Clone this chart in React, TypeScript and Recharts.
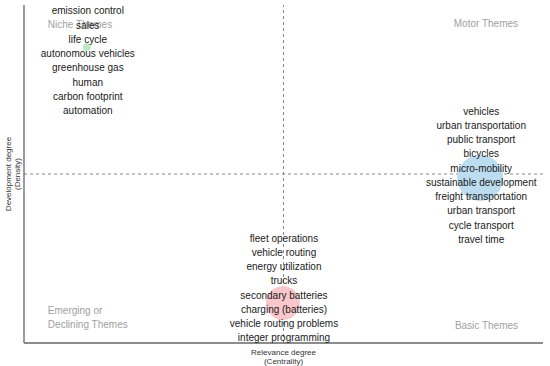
import React from 'react';
import { ScatterChart, Scatter, XAxis, YAxis, ZAxis, ReferenceLine } from 'recharts';

// ---- data ----
const clusterIds = ['niche', 'motor', 'basic'];
const centrality = [0.121, 0.879, 0.499];
const density = [0.876, 0.488, 0.118];
const clusterSize = [4.8, 160, 87];
const nicheKeywords = ['emission control', 'sales', 'life cycle', 'autonomous vehicles', 'greenhouse gas', 'human', 'carbon footprint', 'automation'];
const motorKeywords = ['vehicles', 'urban transportation', 'public transport', 'bicycles', 'micro-mobility', 'sustainable development', 'freight transportation', 'urban transport', 'cycle transport', 'travel time'];
const basicKeywords = ['fleet operations', 'vehicle routing', 'energy utilization', 'trucks', 'secondary batteries', 'charging (batteries)', 'vehicle routing problems', 'integer programming'];
const clusterKeywords = [nicheKeywords, motorKeywords, basicKeywords];

const quadrantTitles = [['Niche Themes'], ['Motor Themes'], ['Emerging or', 'Declining Themes'], ['Basic Themes']];
const quadrantX = [0.046, 0.952, 0.046, 0.952];
const quadrantY = [0.941, 0.944, 0.075, 0.053];

const xTitle = ['Relevance degree', '(Centrality)'];
const yTitle = ['Development degree', '(Density)'];

// ---- built tables ----
const clusters = clusterIds.map((id, i) => ({
  id,
  x: centrality[i],
  y: density[i],
  size: clusterSize[i],
  keywords: clusterKeywords[i],
}));
const quadrants = quadrantTitles.map((lines, i) => ({ lines, x: quadrantX[i], y: quadrantY[i] }));

// ---- styles ----
const FONT = "Arial, 'Liberation Sans', Helvetica, sans-serif";
const LINE = 14.25;
const clusterStyle: Record<string, { fill: string; labelOffset: number }> = {
  niche: { fill: '#bfe6c6', labelOffset: -36 },
  motor: { fill: '#bcdcf0', labelOffset: -67 },
  basic: { fill: '#f9c6cb', labelOffset: -65 },
};

const renderCluster = (props: any) => {
  const { cx, cy, payload } = props;
  const r = props.width ? props.width / 2 : Math.sqrt((props.size ?? 0) / Math.PI);
  const st = clusterStyle[payload.id];
  return (
    <g>
      <circle cx={cx} cy={cy} r={r} fill={st.fill} />
      {payload.keywords.map((k: string, i: number) => (
        <text key={k} x={cx + 1} y={cy + st.labelOffset + i * LINE} dy="0.35em" textAnchor="middle"
          fontSize={10} fontFamily={FONT} fill="#1a1a1a">{k}</text>
      ))}
    </g>
  );
};

const renderQuadrant = (props: any) => {
  const { cx, cy, payload } = props;
  const anchor = payload.x < 0.5 ? 'start' : 'end';
  const n = payload.lines.length;
  return (
    <g>
      {payload.lines.map((l: string, i: number) => (
        <text key={l} x={cx} y={cy + (i - (n - 1) / 2) * 13.5} dy="0.35em" textAnchor={anchor}
          fontSize={10} fontFamily={FONT} fill="#a0a0a0">{l}</text>
      ))}
    </g>
  );
};

const XTitle = (props: any) => {
  const vb = props.viewBox;
  const cx = vb.x + vb.width / 2;
  return (
    <g>
      {xTitle.map((t, i) => (
        <text key={t} x={cx} y={vb.y + 9 + i * 9} dy="0.35em" textAnchor="middle" fontSize={8} fontFamily={FONT} fill="#333">{t}</text>
      ))}
    </g>
  );
};

const YTitle = (props: any) => {
  const vb = props.viewBox;
  const cy = vb.y + vb.height / 2;
  const xs = [8, 17];
  return (
    <g>
      {yTitle.map((t, i) => (
        <text key={t} x={xs[i]} y={cy} dy="0.35em" textAnchor="middle" fontSize={8} fontFamily={FONT} fill="#333"
          transform={`rotate(-90 ${xs[i]} ${cy})`}>{t}</text>
      ))}
    </g>
  );
};

export default function App() {
  return (
    <div style={{ position: 'absolute', left: 0, top: 0, width: 550, height: 366, background: '#fff' }}>
      <ScatterChart width={550} height={366} margin={{ top: 5, right: 7, bottom: 0, left: 0 }}>
        <XAxis type="number" dataKey="x" domain={[0, 1]} allowDataOverflow height={23} tick={false} tickLine={false}
          axisLine={{ stroke: '#666', strokeWidth: 1.3 }} label={{ content: XTitle }} />
        <YAxis type="number" dataKey="y" domain={[0, 1]} allowDataOverflow width={24} tick={false} tickLine={false}
          axisLine={{ stroke: '#666', strokeWidth: 1.3 }} label={{ content: YTitle }} />
        <ZAxis type="number" dataKey="size" domain={[0, 160]} range={[0, 1662]} />
        <ReferenceLine x={0.5} stroke="#888" strokeDasharray="3 3" />
        <ReferenceLine y={0.5} stroke="#888" strokeDasharray="3 3" />
        <Scatter data={quadrants} shape={renderQuadrant} isAnimationActive={false} />
        <Scatter data={clusters} shape={renderCluster} isAnimationActive={false} />
      </ScatterChart>
    </div>
  );
}
